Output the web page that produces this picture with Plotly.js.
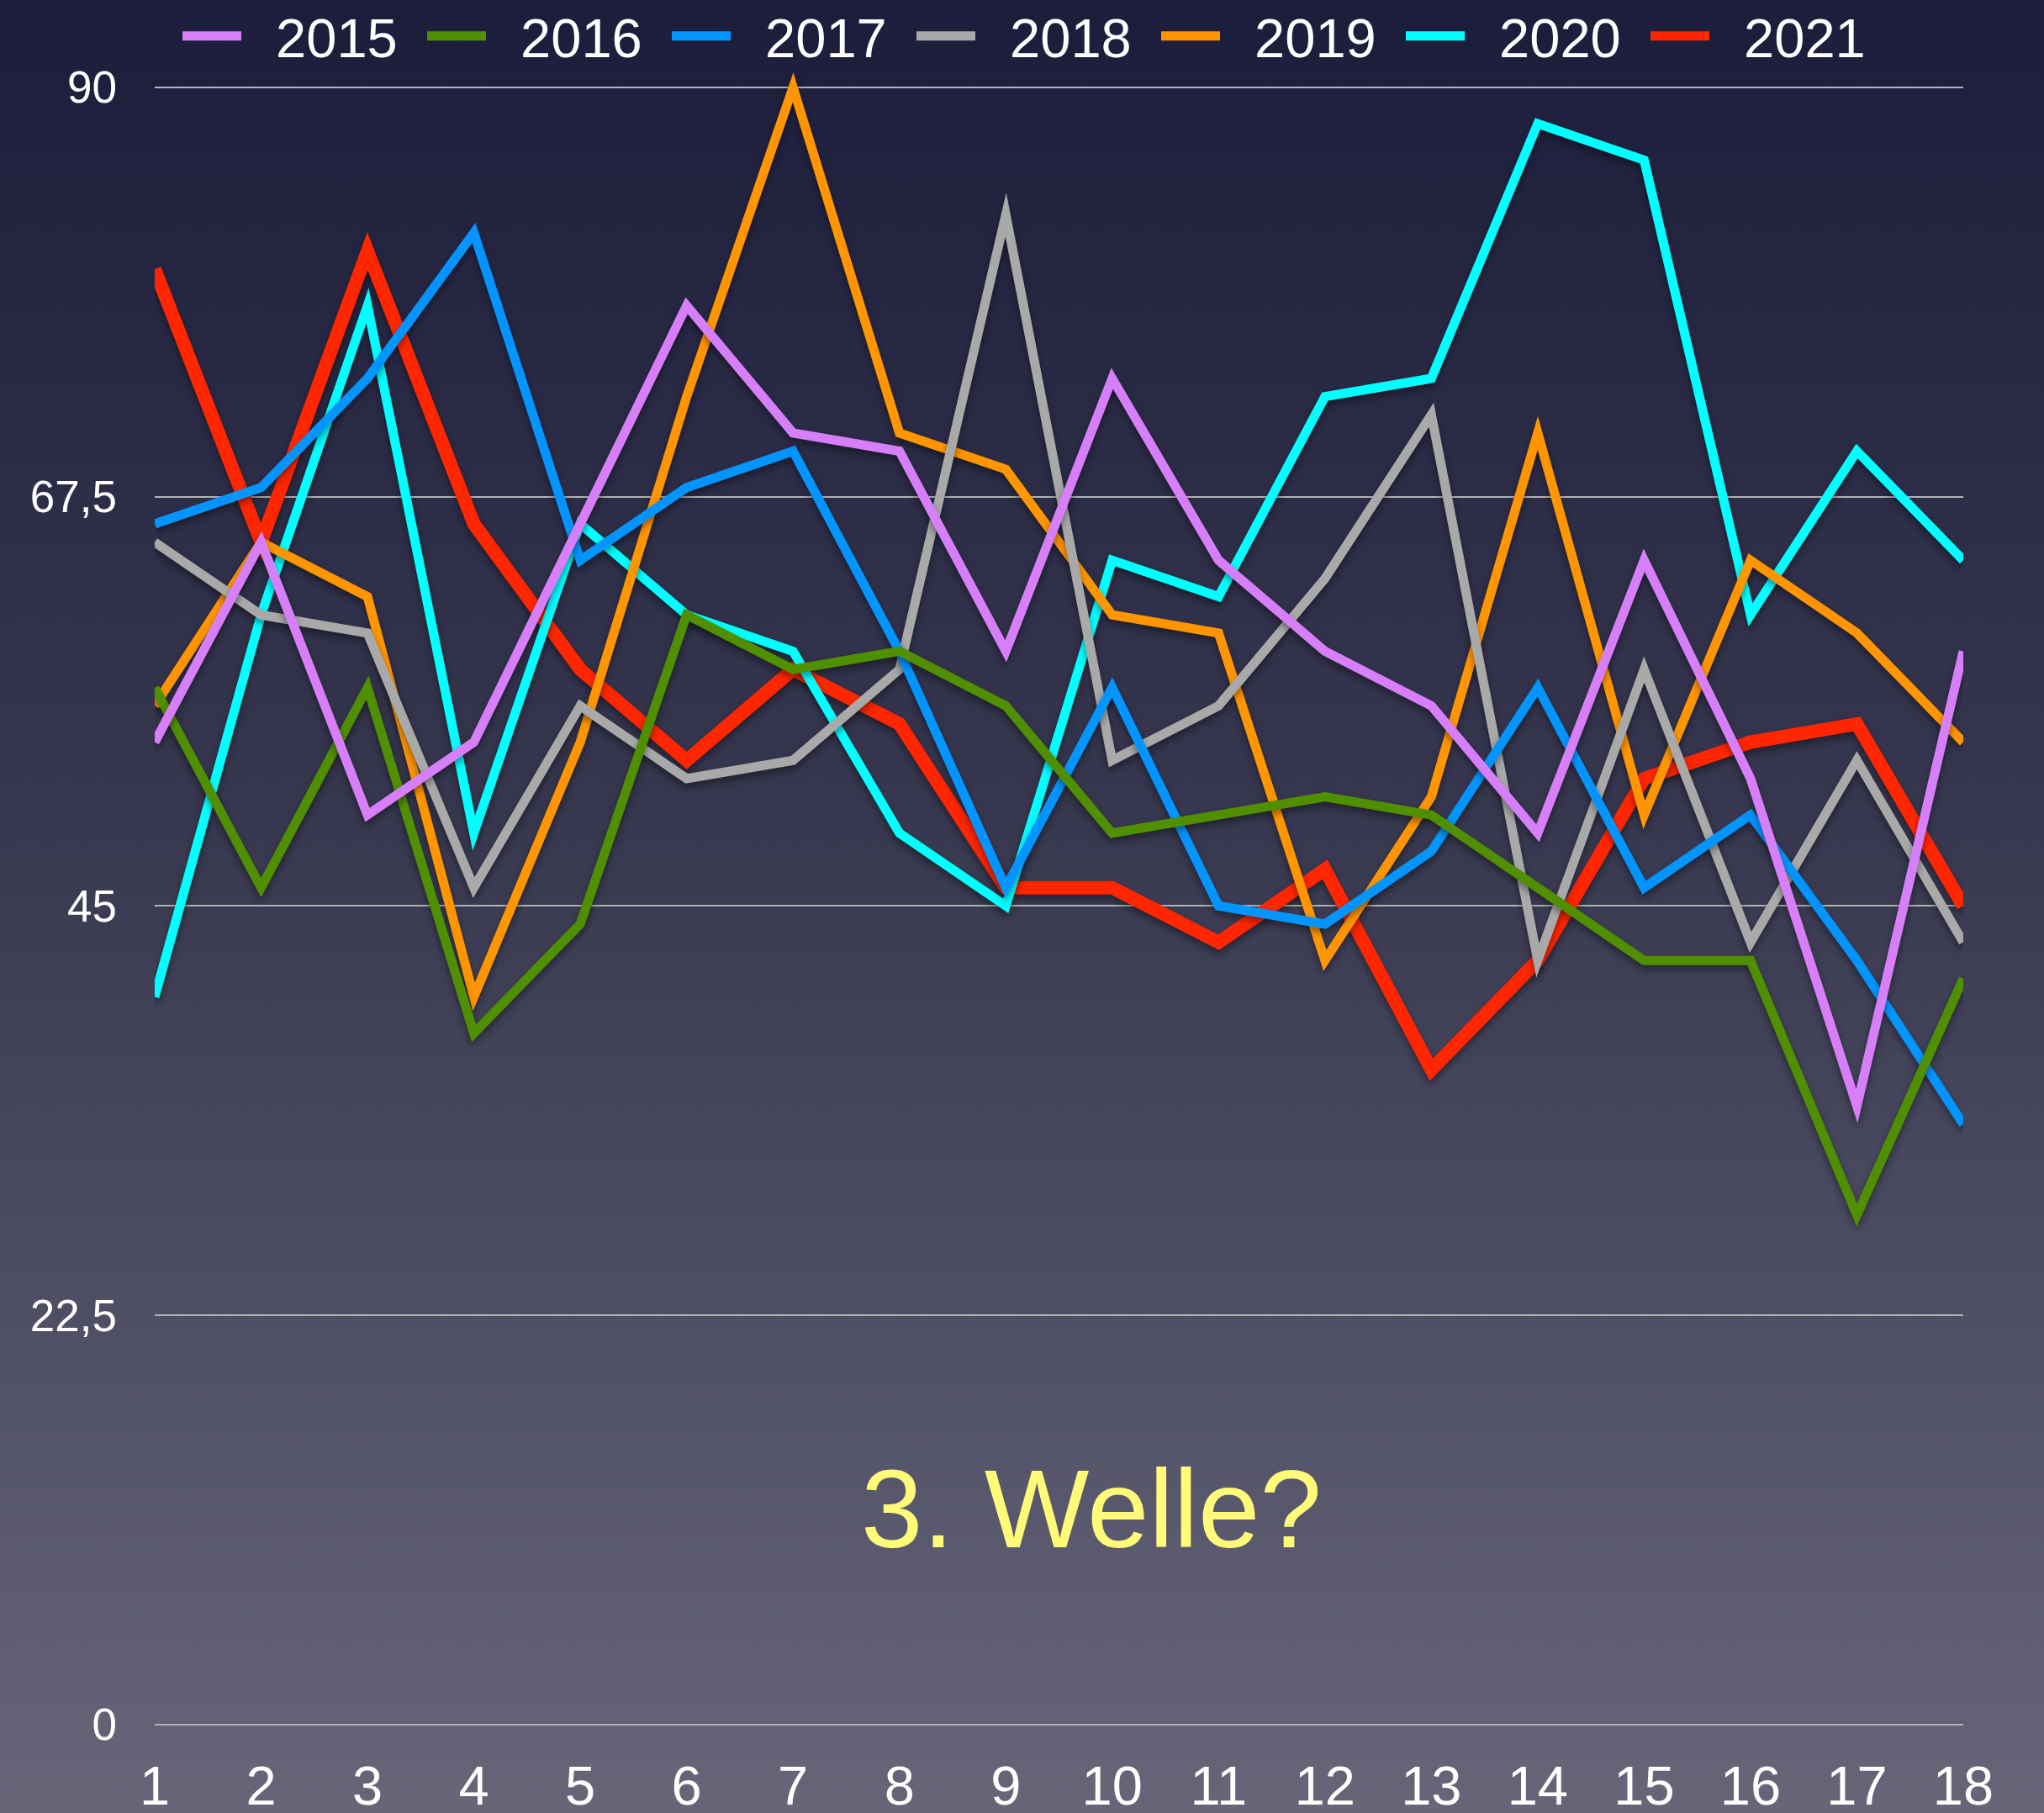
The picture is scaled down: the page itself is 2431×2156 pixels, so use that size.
<!DOCTYPE html>
<html>
<head>
<meta charset="utf-8">
<script src="https://cdn.plot.ly/plotly-3.0.1.min.js"></script>
<style>
html, body { margin: 0; padding: 0; }
#chart {
  width: 2431px; height: 2156px;
  background: linear-gradient(to bottom, #1c1d3b 0%, #37374f 45%, #676679 100%);
}
#chart .scatterlayer .js-line {
  filter: drop-shadow(0px 5px 4px rgba(0,0,0,0.4));
  stroke-linejoin: miter !important;
  stroke-miterlimit: 12 !important;
}
#chart .legend .js-line { stroke-width: 11px !important; stroke-linecap: butt !important; }
</style>
</head>
<body>
<div id="chart"></div>
<script>
// ---- data ----
const weeks = [1, 2, 3, 4, 5, 6, 7, 8, 9, 10, 11, 12, 13, 14, 15, 16, 17, 18];
const years = ['2015', '2016', '2017', '2018', '2019', '2020', '2021'];
const values2015 = [54, 65, 50, 54, 66, 78, 71, 70, 59, 74, 64, 59, 56, 49, 64, 52, 34, 59];
const values2016 = [57, 46, 57, 38, 44, 61, 58, 59, 56, 49, 50, 51, 50, 46, 42, 42, 28, 41];
const values2017 = [66, 68, 74, 82, 64, 68, 70, 59, 46, 57, 45, 44, 48, 57, 46, 50, 42, 33];
const values2018 = [65, 61, 60, 46, 56, 52, 53, 58, 83, 53, 56, 63, 72, 42, 58, 43, 53, 43];
const values2019 = [56, 65, 62, 40, 54, 73, 90, 71, 69, 61, 60, 42, 51, 71, 50, 64, 60, 54];
const values2020 = [40, 61, 78, 49, 66, 61, 59, 49, 45, 64, 62, 73, 74, 88, 86, 61, 70, 64];
const values2021 = [80, 65, 81, 66, 58, 53, 58, 55, 46, 46, 43, 47, 36, 42, 52, 54, 55, 45];
const yTickVals = [0, 22.5, 45, 67.5, 90];
const yTickText = ['0', '22,5', '45', '67,5', '90'];
const annotationText = '3. Welle?';

// ---- styles ----
const allValues = [values2015, values2016, values2017, values2018, values2019, values2020, values2021];
const colors = ['#d67ff8', '#4f8f00', '#0395ff', '#a9a9a9', '#ff9500', '#00ffff', '#ff2600'];
const widths = [11, 11, 11, 11, 11, 11, 16];
const FONT = '"Liberation Sans", Arial, Helvetica, sans-serif';
const NBSP = '\u00a0\u00a0';

// Earlier series drawn on top: add traces in reverse order, legend reversed back.
const traces = [];
for (let i = years.length - 1; i >= 0; i--) {
  traces.push({
    type: 'scatter',
    mode: 'lines',
    name: NBSP + years[i],
    x: weeks,
    y: allValues[i],
    line: { color: colors[i], width: widths[i], shape: 'linear' },
    hoverinfo: 'skip'
  });
}

const layout = {
  width: 2431,
  height: 2156,
  paper_bgcolor: 'rgba(0,0,0,0)',
  plot_bgcolor: 'rgba(0,0,0,0)',
  margin: { l: 184, r: 96, t: 39, b: 101, pad: 0, autoexpand: false },
  font: { family: FONT, color: '#ffffff' },
  showlegend: true,
  legend: {
    orientation: 'h',
    traceorder: 'reversed',
    xref: 'container', yref: 'container',
    x: 212 / 2431, y: 1 - 43 / 2156,
    xanchor: 'left', yanchor: 'middle',
    font: { family: FONT, size: 65, color: '#ffffff' },
    bgcolor: 'rgba(0,0,0,0)',
    itemwidth: 70,
    entrywidthmode: 'pixels',
    entrywidth: 206
  },
  xaxis: {
    range: [1, 18],
    tickmode: 'array',
    tickvals: weeks,
    ticktext: weeks.map(String),
    showgrid: false,
    zeroline: false,
    showline: false,
    ticks: '',
    ticklabelstandoff: 25,
    tickfont: { family: FONT, size: 65, color: '#ffffff' },
    fixedrange: true
  },
  yaxis: {
    range: [-0.2, 93],
    tickmode: 'array',
    tickvals: yTickVals,
    ticktext: yTickText,
    showgrid: true,
    gridcolor: '#b3b3b6',
    gridwidth: 2,
    zeroline: false,
    showline: false,
    ticks: '',
    ticklabelstandoff: 44,
    tickfont: { family: FONT, size: 53, color: '#ffffff' },
    fixedrange: true
  },
  annotations: [{
    text: annotationText,
    xref: 'paper', yref: 'paper',
    x: (1298 - 184) / 2151, y: (2055 - 1794) / 2016,
    xanchor: 'center', yanchor: 'middle',
    showarrow: false,
    font: { family: FONT, size: 132, color: '#fffb78' }
  }]
};

Plotly.newPlot('chart', traces, layout, { displayModeBar: false, staticPlot: true });
</script>
</body>
</html>
